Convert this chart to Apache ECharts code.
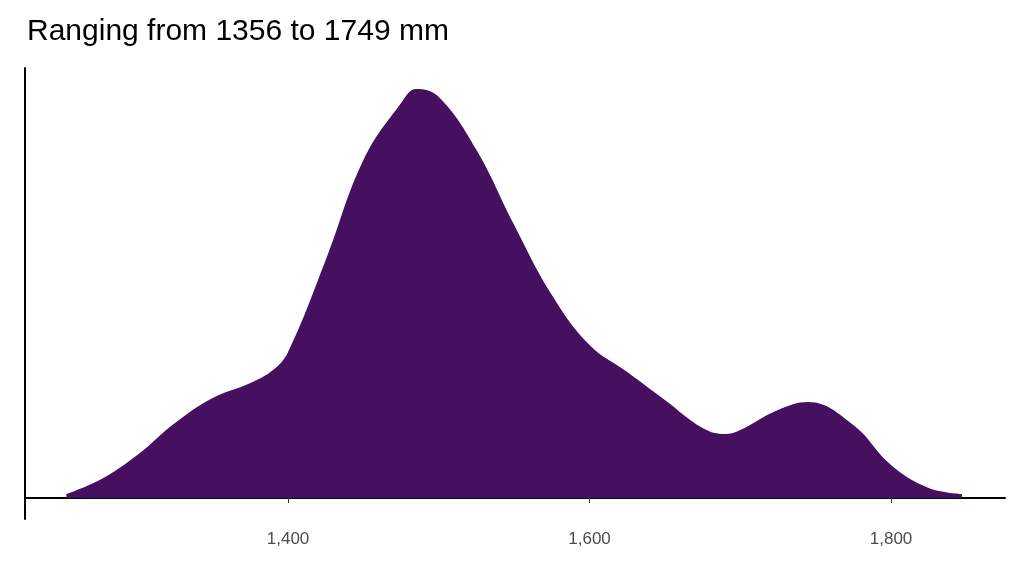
<!DOCTYPE html>
<html><head><meta charset="utf-8">
<script src="https://cdn.jsdelivr.net/npm/echarts@6/dist/echarts.min.js"></script>
<style>html,body{margin:0;padding:0;background:#fff}#c{width:1024px;height:576px}</style>
</head><body><div id="c"></div>
<script>
const lengths = [1253,1275,1300,1325,1350,1375,1390,1400,1425,1450,1475,1485,1500,1525,1550,1575,1600,1625,1650,1675,1690,1700,1725,1745,1775,1800,1825,1847];
const density = [4,18,43,75,100,115,128,146,238,338,395,409,401,348,273,203,153,126,98,70,64,68,88,96,73,33,10,4];
const xTicks = [1400,1600,1800];
const titleText = 'Ranging from 1356 to 1749 mm';
const chart = echarts.init(document.getElementById('c'));
chart.setOption({
  animation:false,
  title:{text:titleText,left:22,top:12,textStyle:{fontFamily:'Liberation Sans, Arial',fontSize:30,fontWeight:'normal',color:'#000'}},
  grid:{left:25,right:19,top:68,bottom:57},
  xAxis:{type:'value',min:1225.5,max:1875.6,interval:200,
    axisLine:{lineStyle:{color:'#000',width:2}},
    axisTick:{show:true,length:5,lineStyle:{color:'#333'},customValues:xTicks},
    axisLabel:{color:'#4d4d4d',fontSize:17,margin:12,customValues:xTicks,fontFamily:'Liberation Sans, Arial'},
    splitLine:{show:false}},
  yAxis:{type:'value',min:-21,max:430,axisLine:{show:true,lineStyle:{color:'#000',width:2}},
    axisTick:{show:false},axisLabel:{show:false},splitLine:{show:false}},
  series:[{type:'line',data:lengths.map((x,i)=>[x,density[i]]),smooth:0.4,symbol:'none',
    lineStyle:{width:0},areaStyle:{color:'#470f5f',opacity:1,origin:0}}]
});
</script></body></html>
